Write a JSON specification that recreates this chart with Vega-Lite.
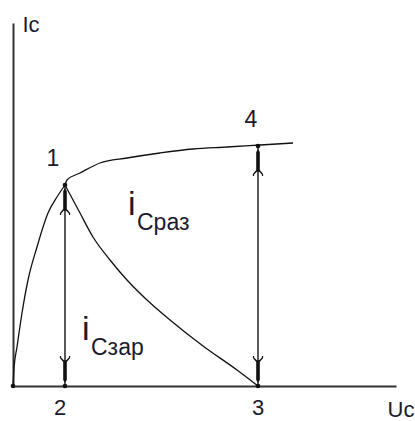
{
  "$schema": "https://vega.github.io/schema/vega-lite/v6.json",
  "autosize": {"type": "none"},
  "padding": {"left": 13, "top": 23, "right": 19, "bottom": 35},
  "width": 383,
  "height": 363,
  "background": "white",
  "config": {
    "view": {"stroke": null},
    "font": "Liberation Sans",
    "axis": {"domain": true, "domainColor": "#333333", "domainWidth": 2, "ticks": false, "labels": false, "grid": false}
  },
  "datasets": {
    "curves": [
      {"curve": "rise", "u": 0, "i": 0},
      {"curve": "rise", "u": 0.1, "i": 1.8},
      {"curve": "rise", "u": 0.4, "i": 3.9},
      {"curve": "rise", "u": 0.9, "i": 7.3},
      {"curve": "rise", "u": 1.5, "i": 10.6},
      {"curve": "rise", "u": 2.4, "i": 13.9},
      {"curve": "rise", "u": 3.5, "i": 17.3},
      {"curve": "rise", "u": 4.4, "i": 18.9},
      {"curve": "rise", "u": 5.2, "i": 20.1},
      {"curve": "upper", "u": 5.2, "i": 20.1},
      {"curve": "upper", "u": 5.4, "i": 20.6},
      {"curve": "upper", "u": 6.7, "i": 21.3},
      {"curve": "upper", "u": 8.7, "i": 22.3},
      {"curve": "upper", "u": 11.4, "i": 22.8},
      {"curve": "upper", "u": 14.7, "i": 23.3},
      {"curve": "upper", "u": 18.0, "i": 23.7},
      {"curve": "upper", "u": 21.4, "i": 23.9},
      {"curve": "upper", "u": 24.7, "i": 24.1},
      {"curve": "upper", "u": 28.0, "i": 24.3},
      {"curve": "fall", "u": 5.2, "i": 20.1},
      {"curve": "fall", "u": 6.7, "i": 17.3},
      {"curve": "fall", "u": 8.0, "i": 14.9},
      {"curve": "fall", "u": 9.7, "i": 12.6},
      {"curve": "fall", "u": 11.4, "i": 10.6},
      {"curve": "fall", "u": 13.4, "i": 8.6},
      {"curve": "fall", "u": 15.7, "i": 6.6},
      {"curve": "fall", "u": 19.0, "i": 4.0},
      {"curve": "fall", "u": 22.4, "i": 1.6},
      {"curve": "fall", "u": 24.5, "i": 0}
    ],
    "points": [
      {"n": "0", "u": 0, "i": 0, "arrow": "none"},
      {"n": "1", "u": 5.2, "i": 20.1, "arrow": "up"},
      {"n": "2", "u": 5.2, "i": 0, "arrow": "down"},
      {"n": "3", "u": 24.5, "i": 0, "arrow": "down"},
      {"n": "4", "u": 24.5, "i": 24.0, "arrow": "up"}
    ],
    "spans": [
      {"u": 5.2, "from": 0, "to": 20.1},
      {"u": 24.5, "from": 0, "to": 24.0}
    ],
    "notes": [
      {"u": 11.5, "i": 17.1, "main": "i", "sub": "Cраз"},
      {"u": 6.9, "i": 4.6, "main": "i", "sub": "Cзар"}
    ]
  },
  "layer": [
    {
      "data": {"name": "curves"},
      "mark": {"type": "line", "interpolate": "monotone", "color": "#111111", "strokeWidth": 1.3},
      "encoding": {
        "x": {"field": "u", "type": "quantitative", "scale": {"domain": [0, 38.3], "nice": false, "zero": false},
              "axis": {"title": "Uc", "titleFontSize": 22, "titleFontWeight": "normal", "titleColor": "#1a1a2e", "titleAlign": "left", "titleBaseline": "alphabetic", "titleX": 374, "titleY": 30, "titleAngle": 0}},
        "y": {"field": "i", "type": "quantitative", "scale": {"domain": [0, 36.3], "nice": false, "zero": false},
              "axis": {"title": "Ic", "titleFontSize": 22, "titleFontWeight": "normal", "titleColor": "#1a1a2e", "titleAlign": "left", "titleBaseline": "alphabetic", "titleX": 9, "titleY": 8, "titleAngle": 0}},
        "detail": {"field": "curve"}
      }
    },
    {
      "data": {"name": "spans"},
      "mark": {"type": "rule", "color": "#222222", "strokeWidth": 1.5},
      "encoding": {
        "x": {"field": "u", "type": "quantitative"},
        "y": {"field": "from", "type": "quantitative"},
        "y2": {"field": "to"}
      }
    },
    {
      "data": {"name": "points"},
      "transform": [{"filter": "datum.arrow !== 'none'"}],
      "mark": {"type": "point", "filled": true, "color": "#111111", "opacity": 1, "size": 3600, "strokeWidth": 0},
      "encoding": {
        "x": {"field": "u", "type": "quantitative"},
        "y": {"field": "i", "type": "quantitative"},
        "shape": {"field": "arrow", "type": "nominal", "legend": null,
                  "scale": {"domain": ["up", "down"], "range": [
                    "M0,0.12 L0.06,0.2 L0.06,0.8 L0.17,0.93 L0.17,1 L0.13,1 L0.13,0.95 L0.04,0.86 L-0.04,0.86 L-0.13,0.95 L-0.13,1 L-0.17,1 L-0.17,0.93 L-0.06,0.8 L-0.06,0.2 Z",
                    "M0,-0.12 L0.06,-0.2 L0.06,-0.8 L0.17,-0.93 L0.17,-1 L0.13,-1 L0.13,-0.95 L0.04,-0.86 L-0.04,-0.86 L-0.13,-0.95 L-0.13,-1 L-0.17,-1 L-0.17,-0.93 L-0.06,-0.8 L-0.06,-0.2 Z"
                  ]}}
      }
    },
    {
      "data": {"name": "points"},
      "mark": {"type": "point", "filled": true, "shape": "circle", "color": "#111111", "opacity": 1, "size": 22},
      "encoding": {
        "x": {"field": "u", "type": "quantitative"},
        "y": {"field": "i", "type": "quantitative"}
      }
    },
    {
      "data": {"name": "points"},
      "transform": [{"filter": "datum.n === '1'"}],
      "mark": {"type": "text", "fontSize": 23, "color": "#1a1a2e", "align": "center", "baseline": "alphabetic", "dx": -12, "dy": -19},
      "encoding": {"x": {"field": "u", "type": "quantitative"}, "y": {"field": "i", "type": "quantitative"}, "text": {"field": "n"}}
    },
    {
      "data": {"name": "points"},
      "transform": [{"filter": "datum.n === '4'"}],
      "mark": {"type": "text", "fontSize": 23, "color": "#1a1a2e", "align": "center", "baseline": "alphabetic", "dx": -7, "dy": -19},
      "encoding": {"x": {"field": "u", "type": "quantitative"}, "y": {"field": "i", "type": "quantitative"}, "text": {"field": "n"}}
    },
    {
      "data": {"name": "points"},
      "transform": [{"filter": "datum.n === '2'"}],
      "mark": {"type": "text", "fontSize": 22, "color": "#1a1a2e", "align": "center", "baseline": "alphabetic", "dx": -5, "dy": 29},
      "encoding": {"x": {"field": "u", "type": "quantitative"}, "y": {"field": "i", "type": "quantitative"}, "text": {"field": "n"}}
    },
    {
      "data": {"name": "points"},
      "transform": [{"filter": "datum.n === '3'"}],
      "mark": {"type": "text", "fontSize": 22, "color": "#1a1a2e", "align": "center", "baseline": "alphabetic", "dx": 0, "dy": 29},
      "encoding": {"x": {"field": "u", "type": "quantitative"}, "y": {"field": "i", "type": "quantitative"}, "text": {"field": "n"}}
    },
    {
      "data": {"name": "notes"},
      "mark": {"type": "text", "fontSize": 34, "color": "#1a1a2e", "align": "left", "baseline": "alphabetic"},
      "encoding": {"x": {"field": "u", "type": "quantitative"}, "y": {"field": "i", "type": "quantitative"}, "text": {"field": "main"}}
    },
    {
      "data": {"name": "notes"},
      "mark": {"type": "text", "fontSize": 23, "color": "#1a1a2e", "align": "left", "baseline": "alphabetic", "dx": 9, "dy": 15},
      "encoding": {"x": {"field": "u", "type": "quantitative"}, "y": {"field": "i", "type": "quantitative"}, "text": {"field": "sub"}}
    }
  ]
}
